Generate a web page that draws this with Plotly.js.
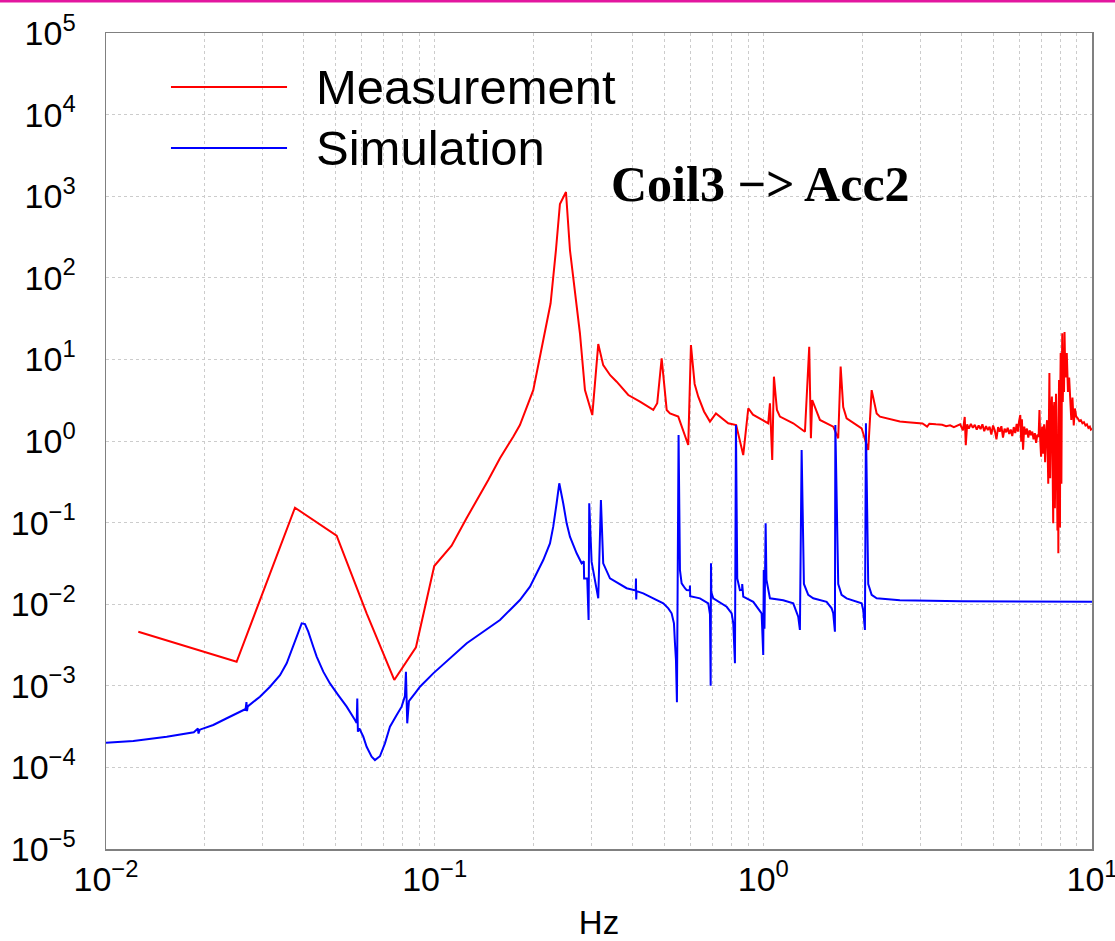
<!DOCTYPE html>
<html>
<head>
<meta charset="utf-8">
<script src="https://cdn.plot.ly/plotly-3.0.1.min.js"></script>
<style>html,body{margin:0;padding:0;background:#fff;}#chart{width:1115px;height:941px;}</style>
</head>
<body>
<div id="chart"></div>
<script>
// ---- Measurement (red) ----
const measFreq = [
  0.01254, 0.02497, 0.03758, 0.05032, 0.06209, 0.07535, 0.08771, 0.0997, 0.1126, 0.125,
  0.1456, 0.158, 0.1734, 0.1817, 0.1995, 0.214, 0.2253, 0.2339, 0.2405, 0.2509, 0.258, 0.2767,
  0.2866, 0.3017, 0.3146, 0.3257, 0.3420, 0.3579, 0.3882, 0.4214, 0.4625, 0.4755, 0.4905,
  0.5081, 0.5199, 0.551, 0.5909, 0.6022, 0.6180, 0.6339, 0.6600, 0.6881, 0.7175, 0.7821, 0.8267,
  0.8687, 0.8999, 0.9300, 0.9765, 1.0349, 1.0474, 1.0643, 1.077, 1.1000, 1.1233, 1.2331, 1.3384,
  1.3793, 1.3956, 1.4085, 1.4866, 1.6318, 1.69, 1.7188, 1.7500, 1.7922, 1.9912, 2.0852,
  2.1358, 2.212, 2.2641, 2.603, 2.75, 2.926, 3.05, 3.15, 3.2, 3.35,
  3.5, 3.6, 3.7, 3.8, 3.9, 3.97, 4.05, 4.10, 4.13, 4.17,
  4.22, 4.28, 4.34, 4.40, 4.46, 4.52, 4.58, 4.64, 4.70, 4.76,
  4.82, 4.88, 4.94, 5.00, 5.06, 5.12, 5.18, 5.24, 5.30, 5.36,
  5.42, 5.48, 5.54, 5.60, 5.66, 5.72, 5.78, 5.84, 5.90, 5.95,
  6.00, 6.05, 6.09, 6.12, 6.17, 6.22, 6.28, 6.34, 6.40, 6.46,
  6.52, 6.58, 6.64, 6.70, 6.76, 6.82, 6.88, 6.92, 6.96, 7.00,
  7.05, 7.10, 7.15, 7.20, 7.25, 7.30, 7.36, 7.42, 7.46, 7.50,
  7.55, 7.58, 7.62, 7.65, 7.68, 7.71, 7.74, 7.77, 7.80, 7.83,
  7.85, 7.88, 7.90, 7.92, 7.94, 7.97, 7.99, 8.01, 8.03, 8.05,
  8.07, 8.10, 8.12, 8.15, 8.18, 8.22, 8.25, 8.28, 8.32, 8.38,
  8.45, 8.52, 8.58, 8.65, 8.72, 8.80, 8.87, 8.95, 9.05, 9.15,
  9.25, 9.35, 9.45, 9.55, 9.65, 9.75, 9.85, 9.92, 10.0
];
const measVal = [
  0.0046, 0.00197, 0.152, 0.069, 0.00773, 0.00118, 0.00296, 0.0294, 0.052, 0.113,
  0.333, 0.614, 1.13, 1.57, 4.2, 17.3, 48.7, 219, 802, 1125, 219, 20.9,
  4.2, 2.08, 15.4, 8.5, 6.4, 5.33, 3.66, 3.03, 2.40, 2.9, 10.3,
  2.4, 2.18, 1.99, 0.893, 15, 5.0, 3.49, 2.3, 1.73, 2.18, 1.65, 1.57,
  0.673, 2.52, 2.1, 1.90, 1.65, 2.90, 0.585, 6.14, 2.4, 1.99, 1.65, 1.30,
  14.3, 1.08, 3.18, 1.81, 1.5, 1.08, 8.15, 2.6, 1.90, 1.43, 0.776,
  4.2, 2.18, 1.99, 1.73, 1.70, 1.66, 1.64, 1.50, 1.63, 1.60,
  1.58, 1.52, 1.56, 1.48, 1.55, 1.60, 1.35, 1.97, 0.89, 1.60,
  1.42, 1.62, 1.45, 1.58, 1.38, 1.55, 1.40, 1.60, 1.32, 1.52,
  1.36, 1.50, 1.20, 1.55, 1.35, 1.05, 1.48, 1.30, 1.52, 1.10,
  1.42, 1.28, 1.45, 1.22, 1.38, 1.15, 1.48, 1.25, 1.62, 1.30,
  1.75, 2.08, 0.98, 1.85, 0.78, 1.50, 1.20, 1.42, 1.10, 1.35,
  1.18, 1.30, 1.05, 1.25, 0.95, 1.20, 1.12, 2.40, 1.00, 0.64,
  1.50, 0.70, 1.60, 0.55, 1.30, 1.80, 0.30, 6.8, 0.35, 2.2,
  3.5, 0.25, 0.098, 2.4, 3.0, 0.15, 0.40, 3.8, 1.5, 0.12,
  0.08, 1.2, 0.042, 2.5, 5.6, 0.2, 0.087, 4.5, 12, 1.0,
  0.3, 8.0, 20.9, 3.0, 8.0, 4.0, 21.7, 9.0, 6.0, 12,
  4.0, 6.0, 3.5, 1.81, 3.4, 1.55, 2.5, 2.0, 1.9, 1.75,
  1.80, 1.65, 1.70, 1.55, 1.60, 1.45, 1.50, 1.38, 1.42
];

// ---- Simulation (blue) ----
const simFreq = [
  0.0100, 0.01211, 0.0153, 0.01718, 0.0185, 0.01905, 0.0191, 0.0193, 0.0212, 0.02331,
  0.0266, 0.02675, 0.02685, 0.0270, 0.0294, 0.03155, 0.03384, 0.03546, 0.03673, 0.03804,
  0.03872, 0.03939, 0.04031, 0.04125, 0.04272, 0.04375, 0.04582, 0.04802, 0.05088, 0.05399,
  0.05722, 0.0579, 0.05815, 0.0584, 0.0590, 0.06065, 0.06209, 0.0643, 0.06581, 0.06815,
  0.07059, 0.07311, 0.07664, 0.07934, 0.0812, 0.08177, 0.08251, 0.0835, 0.08711, 0.09022,
  0.09901, 0.1113, 0.1252, 0.1405, 0.158, 0.1695, 0.1817, 0.195, 0.2043, 0.214,
  0.2243, 0.2295, 0.235, 0.2394, 0.2461, 0.2521, 0.258, 0.2704, 0.28, 0.2843,
  0.2849, 0.2912, 0.294, 0.2953, 0.3003, 0.3074, 0.3146, 0.3205, 0.3257, 0.3415,
  0.3838, 0.409, 0.4097, 0.4104, 0.4115, 0.4311, 0.4961, 0.5139, 0.526, 0.5346,
  0.5384, 0.5422, 0.5459, 0.5522, 0.5576, 0.5642, 0.5775, 0.5843, 0.5975, 0.598,
  0.599, 0.6414, 0.68, 0.6881, 0.6914, 0.693, 0.6945, 0.7042, 0.7735, 0.801,
  0.81, 0.8197, 0.8254, 0.833, 0.8486, 0.862, 0.8625, 0.8687, 0.9318, 0.9881,
  0.9993, 1.003, 1.008, 1.0163, 1.022, 1.0474, 1.1497, 1.2331, 1.277, 1.2921,
  1.3077, 1.3289, 1.3697, 1.4183, 1.558, 1.614, 1.6318, 1.6512, 1.6562, 1.69,
  1.73, 1.7922, 1.9912, 2.013, 2.0376, 2.0518, 2.0852, 2.1358, 2.212, 2.603,
  4.0, 10.0
];
const simVal = [
  2.01e-4, 2.11e-4, 2.38e-4, 2.56e-4, 2.70e-4, 3.0e-4, 2.6e-4, 2.9e-4, 3.31e-4, 4.0e-4,
  5.2e-4, 6.3e-4, 4.9e-4, 5.6e-4, 7.36e-4, 9.75e-4, 1.35e-3, 1.89e-3, 2.75e-3, 4.0e-3,
  5.07e-3, 5.83e-3, 5.7e-3, 4.6e-3, 3.01e-3, 2.28e-3, 1.49e-3, 1.07e-3, 7.7e-4, 5.55e-4,
  3.81e-4, 3.5e-4, 7.0e-4, 2.74e-4, 3.0e-4, 2.38e-4, 1.79e-4, 1.35e-4, 1.23e-4, 1.37e-4,
  1.97e-4, 3.15e-4, 4.38e-4, 5.55e-4, 7.5e-4, 1.49e-3, 3.47e-4, 6.5e-4, 8.1e-4, 9.75e-4,
  1.42e-3, 2.17e-3, 3.32e-3, 4.6e-3, 6.4e-3, 8.5e-3, 0.01125, 0.0164, 0.0239, 0.0348,
  0.0557, 0.0891, 0.1726, 0.303, 0.1726, 0.098, 0.0671, 0.0421, 0.0317, 0.0335,
  0.0207, 0.0207, 0.0064, 0.1726, 0.033, 0.0207, 0.0118, 0.189, 0.0317, 0.0207,
  0.0157, 0.0147, 0.0207, 0.0114, 0.0145, 0.0136, 0.01025, 0.0089, 0.00773, 0.00583,
  0.00332, 0.00207, 6.3e-4, 1.18, 0.0262, 0.018, 0.0157, 0.0149, 0.0148, 0.017,
  0.0125, 0.0118, 0.01025, 0.0075, 1.0e-3, 0.0317, 0.014, 0.0118, 0.0093, 0.00773,
  5.83e-3, 1.89e-3, 1.57, 0.0207, 0.0149, 0.0150, 0.0177, 0.0124, 0.0107, 0.00773,
  2.38e-3, 0.0262, 5.0e-3, 0.098, 0.020, 0.0118, 0.0112, 0.01025, 7.03e-3, 4.83e-3,
  0.776, 0.0177, 0.013, 0.0118, 0.0107, 0.0089, 0.00773, 4.6e-3, 1.57, 0.0177,
  0.013, 0.0118, 0.01025, 0.0085, 4.83e-3, 1.65, 0.0177, 0.013, 0.0118, 0.0112,
  0.0109, 0.0107
];

// ---- Tick labels ----
const xTickVals = [0.01, 0.1, 1, 10];
const xTickText = ['10<sup>−2</sup>', '10<sup>−1</sup>', '10<sup>0</sup>', '10<sup>1</sup>'];
const yTickVals = [1e-5, 1e-4, 1e-3, 1e-2, 1e-1, 1, 10, 100, 1e3, 1e4, 1e5];
const yTickText = ['10<sup>−5</sup>', '10<sup>−4</sup>', '10<sup>−3</sup>', '10<sup>−2</sup>', '10<sup>−1</sup>',
  '10<sup>0</sup>', '10<sup>1</sup>', '10<sup>2</sup>', '10<sup>3</sup>', '10<sup>4</sup>', '10<sup>5</sup>'];
const xMinorVals = [];
[0.01, 0.1, 1].forEach(d => { for (let k = 2; k <= 9; k++) xMinorVals.push(d * k); });

const seriesNames = ['Measurement', 'Simulation'];
const seriesColors = ['#ff0000', '#0000ff'];
const chartLabel = 'Coil3 −> Acc2';
const xTitle = 'Hz';

const traces = [
  {x: measFreq, y: measVal, type: 'scatter', mode: 'lines', name: seriesNames[0],
   line: {color: seriesColors[0], width: 2}, showlegend: false},
  {x: simFreq, y: simVal, type: 'scatter', mode: 'lines', name: seriesNames[1],
   line: {color: seriesColors[1], width: 2}, showlegend: false}
];

const gridCol = '#cccccc';
const tickFont = {family: 'Liberation Sans, Arial, sans-serif', size: 34, color: '#000'};

const layout = {
  width: 1115, height: 941,
  margin: {l: 106, r: 23, t: 33, b: 92, autoexpand: false},
  paper_bgcolor: '#fff', plot_bgcolor: '#fff',
  xaxis: {
    type: 'log', range: [-2, 1], tickvals: xTickVals, ticktext: xTickText,
    showline: true, mirror: true, linecolor: '#808080', linewidth: 1.5,
    showgrid: true, gridcolor: gridCol, griddash: 'dot', gridwidth: 1,
    ticks: '', tickfont: tickFont, automargin: false, ticklabeloverflow: 'allow',
    minor: {tickvals: xMinorVals, showgrid: true, gridcolor: gridCol, griddash: 'dot', gridwidth: 1, ticks: ''},
    title: {text: xTitle, font: {family: 'Liberation Sans, Arial, sans-serif', size: 33, color: '#000'}, standoff: 22},
    zeroline: false
  },
  yaxis: {
    type: 'log', range: [-5, 5], tickvals: yTickVals, ticktext: yTickText,
    showline: true, mirror: true, linecolor: '#808080', linewidth: 1.5,
    showgrid: true, gridcolor: gridCol, griddash: 'dot', gridwidth: 1,
    ticks: '', tickfont: tickFont, automargin: false, ticklabelstandoff: 22,
    ticklabeloverflow: 'allow', zeroline: false
  },
  shapes: [
    {type: 'line', xref: 'paper', yref: 'paper', x0: -0.11, x1: 1.03, y0: 1.0392, y1: 1.0392,
     line: {color: '#e3169f', width: 3}},
    {type: 'line', xref: 'paper', yref: 'paper', x0: 0.0659, x1: 0.1836, y0: 0.9338, y1: 0.9338,
     line: {color: seriesColors[0], width: 2}},
    {type: 'line', xref: 'paper', yref: 'paper', x0: 0.0659, x1: 0.1836, y0: 0.8591, y1: 0.8591,
     line: {color: seriesColors[1], width: 2}}
  ],
  annotations: [
    {xref: 'paper', yref: 'paper', x: 0.211, y: 0.9338, xanchor: 'left', yanchor: 'middle',
     text: seriesNames[0], showarrow: false,
     font: {family: 'Liberation Sans, Arial, sans-serif', size: 49, color: '#000'}},
    {xref: 'paper', yref: 'paper', x: 0.211, y: 0.8591, xanchor: 'left', yanchor: 'middle',
     text: seriesNames[1], showarrow: false,
     font: {family: 'Liberation Sans, Arial, sans-serif', size: 49, color: '#000'}},
    {xref: 'paper', yref: 'paper', x: 0.6643, y: 0.815, xanchor: 'center', yanchor: 'middle',
     text: '<b>' + chartLabel + '</b>', showarrow: false,
     font: {family: 'Liberation Serif, Times New Roman, serif', size: 50, color: '#000'}}
  ]
};

Plotly.newPlot('chart', traces, layout, {staticPlot: true, displayModeBar: false});
</script>
</body>
</html>
